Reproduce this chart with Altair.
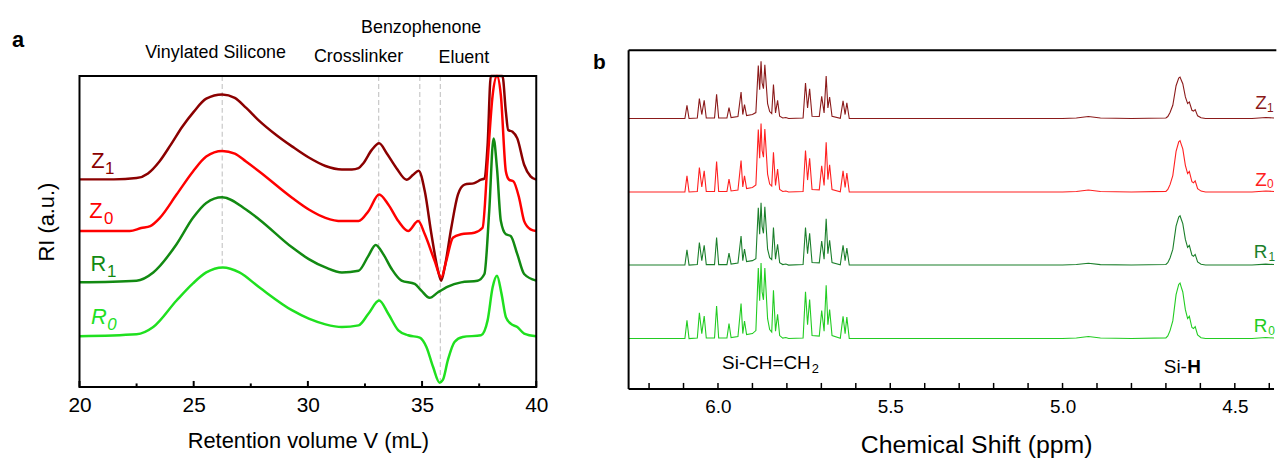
import altair as alt
import pandas as pd

# ================= panel a : GPC traces (x = retention volume, y = offset RI) =================
gpc_Z1_x = [20.0, 21.5, 22.5, 23.0, 23.5, 24.0, 24.5, 25.0, 25.55, 26.25, 26.8, 27.3, 27.87, 28.6, 29.32,
            30.04, 30.77, 31.49, 31.93, 32.22, 32.43, 32.8, 33.12, 33.45, 33.88, 34.32, 34.61, 34.85,
            35.12, 35.41, 35.70, 35.84, 35.99, 36.28, 36.57, 36.86, 37.29, 37.58, 37.73, 37.87, 38.01,
            38.25, 38.52, 38.67, 38.77, 38.96, 39.17, 39.47, 39.75, 40.0]
gpc_Z1_y = [209, 209, 210.3, 215, 227, 244, 262, 277, 290.3, 294.5, 291, 281, 268, 254, 242,
            231, 222.5, 219, 219, 220.3, 225.3, 238.7, 245.3, 235.3, 220.3, 208.7, 213.7, 217.7,
            197, 153.7, 117, 107, 120.3, 160.3, 193.7, 203.7, 205.3, 208.7, 210, 243.7, 313,
            345, 313, 277, 258.7, 257, 250.3, 223.7, 212, 208.7]

gpc_Z0_x = [20.0, 22.2, 22.7, 23.1, 23.52, 24.25, 24.97, 25.55, 26.25, 26.8, 27.29, 27.87, 29.32, 30.04,
            30.77, 31.49, 32.22, 32.65, 33.12, 33.52, 33.96, 34.39, 34.83, 35.12, 35.55, 35.84, 36.06,
            36.35, 36.71, 37.29, 37.65, 37.87, 38.09, 38.28, 38.45, 38.67, 38.81, 39.0, 39.25, 39.47,
            39.75, 40.0]
gpc_Z0_y = [157, 157, 160, 162, 170.3, 193.7, 217, 232, 237.7, 235, 227, 217, 190.3, 178.7,
            170.3, 167, 167, 177, 193.7, 183.7, 167, 157, 167, 153.7, 127, 110.3, 127,
            150.3, 153.7, 155.3, 160.3, 227, 293.7, 314, 293.7, 217, 208.7, 207, 190.3, 167,
            158.7, 157]

gpc_R1_x = [20.0, 22.5, 23.23, 24.25, 24.97, 25.55, 26.25, 27.29, 27.87, 29.32, 30.04, 30.77, 31.49,
            32.22, 32.65, 32.97, 33.30, 33.67, 34.10, 34.68, 34.97, 35.33, 35.70, 36.13, 36.71, 37.43,
            37.73, 37.94, 38.13, 38.28, 38.45, 38.67, 38.88, 39.17, 39.47, 40.0]
gpc_R1_y = [105.3, 107, 115.3, 143.7, 170.3, 185.3, 191, 178.7, 168.7, 140.3, 128.7, 120.3, 115.3,
            117, 132, 143, 133.7, 118.7, 107, 103.7, 97, 89.7, 95.3, 101, 105.3, 107,
            113.7, 177, 250.3, 220.3, 167, 153.7, 152, 133.7, 113.7, 107]

gpc_R0_x = [20.0, 22.5, 23.23, 24.25, 24.97, 25.55, 26.28, 27.0, 27.87, 29.32, 30.04, 30.77, 31.49,
            32.22, 32.65, 33.12, 33.52, 33.96, 34.39, 34.9, 35.19, 35.48, 35.77, 35.91, 36.13, 36.42,
            36.78, 37.58, 37.87, 38.09, 38.28, 38.48, 38.67, 38.88, 39.17, 39.47, 40.0]
gpc_R0_y = [51, 53, 60.3, 87, 104.3, 115.3, 120.3, 115.3, 100.3, 77, 68.7, 63, 60.3,
            62, 73.7, 87, 73.7, 57, 52, 49.7, 40.3, 20.3, 4.3, 7, 27, 45.3,
            50.3, 52, 67, 100.3, 112, 93.7, 70.3, 63.7, 60.3, 53.7, 51]

a_names = ["Z1", "Z0", "R1", "R0"]
a_colors = ["#8B0000", "#FF0000", "#128A12", "#1FE01F"]
a_xs = [gpc_Z1_x, gpc_Z0_x, gpc_R1_x, gpc_R0_x]
a_ys = [gpc_Z1_y, gpc_Z0_y, gpc_R1_y, gpc_R0_y]

guide_x = [26.25, 33.1, 34.9, 35.8]
guide_low = [120, 87, 100, 5]
a_major_ticks = [20, 25, 30, 35, 40]
a_minor_ticks = [22.5, 27.5, 32.5, 37.5]

# ================= panel b : 1H NMR traces (x = ppm, y = intensity) =================
nmr_ppm = [6.259, 6.096, 6.090, 6.084, 6.060, 6.054, 6.047, 6.040, 6.034, 6.010,
           6.004, 5.998, 5.974, 5.968, 5.962, 5.942, 5.933, 5.928, 5.923, 5.917,
           5.900, 5.890, 5.883, 5.879, 5.875, 5.872, 5.868, 5.864, 5.856, 5.850,
           5.844, 5.839, 5.833, 5.827, 5.821, 5.812, 5.803, 5.795, 5.753, 5.746,
           5.740, 5.734, 5.727, 5.706, 5.699, 5.692, 5.686, 5.681, 5.676, 5.669,
           5.645, 5.637, 5.631, 5.626, 5.619, 5.000, 4.960, 4.925, 4.890, 4.800,
           4.700, 4.6945, 4.688, 4.680, 4.6705, 4.6628, 4.659, 4.655, 4.651, 4.6435,
           4.637, 4.632, 4.6245, 4.620, 4.615, 4.608, 4.598, 4.585, 4.450, 4.410,
           4.3862]
nmr_Z1 = [0, 0, 13.3, 0, 0.5, 20, 4, 18.3, 0.5, 0.5,
          24.3, 0.5, 0.5, 11, 1, 2, 26.7, 4, 14, 3,
          4, 6, 53.3, 29, 57.7, 36, 30, 54, 15, 7,
          5, 34.3, 5.7, 18.3, 2.3, 0.5, 1, 0, 0.5, 35.7,
          10.7, 30, 2.3, 2, 22.3, 5.7, 42.7, 10.7, 21.7, 2.3,
          0.3, 17.7, 4, 15.7, 0, 0, 0.5, 2, 0.5, 0,
          0.5, 2, 6, 13.3, 33, 40.7, 41.7, 38.3, 35, 21.7,
          15, 16.7, 8.3, 7.5, 9, 2.7, 0.7, 0, 0, 1,
          0.5]
nmr_Z0 = [0, 0, 16.3, 0, 0.5, 24.7, 5, 21.3, 0.5, 0.5,
          30.7, 0.5, 0.5, 13, 1, 2, 31.7, 5, 16.3, 3.5,
          4.5, 7, 63, 34, 69, 42, 35, 63.3, 18, 8,
          6, 40, 6.5, 23, 2.5, 0.5, 1, 0, 0.5, 41.7,
          12, 34, 2.5, 2.2, 26.3, 6.5, 50, 12.5, 27.3, 2.5,
          0.3, 21.3, 4.5, 19, 0, 0, 0.5, 2, 0.5, 0,
          0.6, 2.5, 7.4, 16.5, 40.9, 50.5, 51.7, 47.5, 43.4, 26.9,
          18.6, 20.7, 10.3, 9.3, 11.2, 3.3, 0.9, 0, 0, 1,
          0.5]
nmr_R1 = [0, 0, 15.3, 0, 0.5, 22.7, 4.5, 20, 0.5, 0.5,
          27.7, 0.5, 0.5, 12, 1, 2, 29.3, 4.5, 16, 3.5,
          4.5, 6.5, 57.7, 31, 62.7, 39, 32, 58.7, 16, 7.5,
          5.5, 37.7, 6, 21, 2.5, 0.5, 1, 0, 0.5, 37.7,
          11.5, 32, 2.5, 2.2, 24.3, 6, 46.7, 11.5, 25, 2.5,
          0.3, 20, 4.5, 17, 0, 0, 0.5, 1.8, 0.5, 0,
          0.6, 2.4, 7.1, 15.8, 39.3, 48.4, 49.6, 45.6, 41.7, 25.8,
          17.9, 19.9, 9.9, 8.9, 10.7, 3.2, 0.8, 0, 0, 1,
          0.5]
nmr_R0 = [0, 0, 18.3, 0, 0.5, 26, 5, 22.7, 0.5, 0.5,
          32.7, 0.5, 0.5, 15, 1, 2, 35.3, 5, 17.7, 4,
          5, 8, 71, 38, 76, 47, 39, 71, 20, 9,
          6.5, 48.7, 7.5, 24.3, 3, 0.5, 1, 0, 0.5, 47,
          14, 39.3, 3, 2.5, 28.3, 7.5, 53.7, 14, 29.3, 3,
          0.3, 22.3, 5, 21.7, 0, 0, 0.5, 2, 0.5, 0,
          0.7, 2.7, 8, 17.8, 44.2, 54.5, 55.9, 51.3, 46.9, 29.1,
          20.1, 22.4, 11.1, 10.1, 12.1, 3.6, 0.9, 0, 0, 1,
          0.5]
b_names = ["Z1", "Z0", "R1", "R0"]
b_offsets = [272.3, 198.3, 124.7, 50.7]
b_colors = ["#8B1A1A", "#FF2020", "#1B7F2B", "#22CC22"]
b_ticks = [6.2, 6.1, 6.0, 5.9, 5.8, 5.7, 5.6, 5.5, 5.4, 5.3, 5.2, 5.1, 5.0, 4.9, 4.8, 4.7, 4.6, 4.5, 4.4]
b_labels = [6.0, 5.5, 5.0, 4.5]

FONT = "Liberation Sans"

# ---------------- data frames ----------------
frames = []
for n, xs, ys, c in zip(a_names, a_xs, a_ys, a_colors):
    assert len(xs) == len(ys), n
    frames.append(pd.DataFrame({"x": xs, "y": ys, "series": n, "col": c}))
gpc = pd.concat(frames, ignore_index=True)

frames = []
for n, vals, off, c in zip(b_names, [nmr_Z1, nmr_Z0, nmr_R1, nmr_R0], b_offsets, b_colors):
    assert len(vals) == len(nmr_ppm), n
    frames.append(pd.DataFrame({"ppm": nmr_ppm, "I": vals, "off": off, "series": n, "col": c}))
nmr = pd.concat(frames, ignore_index=True)

# ---------------- panel a ----------------
X_A = alt.X("x:Q", scale=alt.Scale(domain=[20, 40], nice=False, zero=False),
            axis=alt.Axis(values=a_major_ticks, labelFontSize=21, labelPadding=25,
                          labelBaseline="alphabetic", labelFlush=False, ticks=False, tickSize=0,
                          domain=False, grid=False, labelFont=FONT, labelColor="black",
                          title="Retention volume V (mL)", titleFont=FONT, titleFontSize=22,
                          titleFontWeight="normal", titleColor="black", titleY=61,
                          titleBaseline="alphabetic"))
Y_A = alt.Y("y:Q", scale=alt.Scale(domain=[0, 339], nice=False, zero=False), axis=None)
X2_A = alt.X2("x2:Q")
Y2_A = alt.Y2("y2:Q")

anchor_a = alt.Chart(pd.DataFrame({"x": [16.913], "x2": [16.95], "y": [379.0], "y2": [378.95]})).mark_rect(
    opacity=0).encode(x=X_A, x2=X2_A, y=Y_A, y2=Y2_A)

guides = alt.Chart(pd.DataFrame({"x": guide_x, "y": [313] * 4, "y2": guide_low})).mark_rule(
    color="#C8C8C8", strokeDash=[5, 3], strokeWidth=1.2).encode(x=X_A, y=Y_A, y2=Y2_A)

lines_a = alt.Chart(gpc).transform_calculate(yc="min(datum.y, 313)").mark_line(
    interpolate="monotone", strokeWidth=2.5).encode(
    x=X_A, y=alt.Y("yc:Q", scale=alt.Scale(domain=[0, 339], nice=False, zero=False), axis=None),
    color=alt.Color("col:N", scale=None), detail="series:N")

frame_a = alt.Chart(pd.DataFrame({"x": [20], "x2": [40], "y": [0], "y2": [313]})).mark_rect(
    fillOpacity=0, stroke="black", strokeWidth=2).encode(x=X_A, x2=X2_A, y=Y_A, y2=Y2_A)

ticks_a = alt.Chart(pd.DataFrame({"x": a_major_ticks + a_minor_ticks,
                                  "y": [0] * 9,
                                  "y2": [6] * 5 + [3.5] * 4})).mark_rule(
    color="black", strokeWidth=2).encode(x=X_A, y=Y_A, y2=Y2_A)

def text_layer(rows, X, Y, xfield, **props):
    df = pd.DataFrame(rows, columns=[xfield, "y", "t", "c"])
    return alt.Chart(df).mark_text(font=FONT, **props).encode(
        x=X, y=Y, text="t:N", color=alt.Color("c:N", scale=None))

ann_a = text_layer([[25.96, 331, "Vinylated Silicone", "black"],
                    [32.22, 327, "Crosslinker", "black"],
                    [34.96, 356.3, "Benzophenone", "black"],
                    [36.83, 326, "Eluent", "black"]], X_A, Y_A, "x",
                   align="center", baseline="alphabetic", fontSize=18)
panel_a_letter = text_layer([[17.04, 342, "a", "black"]], X_A, Y_A, "x",
                            align="left", baseline="alphabetic", fontSize=22, fontWeight="bold")
ylab_a = text_layer([[18.87, 166, "RI (a.u.)", "black"]], X_A, Y_A, "x",
                    align="center", baseline="alphabetic", fontSize=22, angle=270)
lab_main_a = text_layer([[20.52, 220.3, "Z", a_colors[0]],
                         [20.43, 170.3, "Z", a_colors[1]],
                         [20.48, 117, "R", a_colors[2]]], X_A, Y_A, "x",
                        align="left", baseline="alphabetic", fontSize=22)
lab_sub_a = text_layer([[21.12, 214.3, "1", a_colors[0]],
                        [21.07, 164.3, "0", a_colors[1]],
                        [21.20, 111, "1", a_colors[2]]], X_A, Y_A, "x",
                       align="left", baseline="alphabetic", fontSize=17)
lab_main_a_it = text_layer([[20.50, 63, "R", a_colors[3]]], X_A, Y_A, "x",
                           align="left", baseline="alphabetic", fontSize=22, fontStyle="italic")
lab_sub_a_it = text_layer([[21.22, 57, "0", a_colors[3]]], X_A, Y_A, "x",
                          align="left", baseline="alphabetic", fontSize=17, fontStyle="italic")

panel_a = alt.layer(anchor_a, guides, lines_a, frame_a, ticks_a, ann_a, panel_a_letter, ylab_a,
                    lab_main_a, lab_sub_a, lab_main_a_it, lab_sub_a_it).properties(width=460, height=339)

# ---------------- panel b ----------------
X_B = alt.X("ppm:Q", scale=alt.Scale(domain=[4.3862, 6.2594], reverse=True, nice=False, zero=False),
            axis=alt.Axis(values=b_labels, format=".1f", labelFontSize=19, labelPadding=24,
                          labelBaseline="alphabetic", labelFlush=False, ticks=False, tickSize=0,
                          domain=False, grid=False, labelFont=FONT, labelColor="black",
                          title="Chemical Shift (ppm)", titleFont=FONT, titleFontSize=25,
                          titleFontWeight="normal", titleColor="black", titleY=64, titleX=350,
                          titleAlign="center", titleBaseline="alphabetic"))
Y_B = alt.Y("y:Q", scale=alt.Scale(domain=[0, 341], nice=False, zero=False), axis=None)
X2_B = alt.X2("ppm2:Q")

lines_b = alt.Chart(nmr).transform_calculate(y="datum.I + datum.off").mark_line(
    strokeWidth=1.1, interpolate="linear").encode(
    x=X_B, y=Y_B, color=alt.Color("col:N", scale=None), detail="series:N")

frame_b_v = alt.Chart(pd.DataFrame({"ppm": [6.2594], "y": [0], "y2": [341]})).mark_rule(
    color="black", strokeWidth=2).encode(x=X_B, y=Y_B, y2=alt.Y2("y2:Q"))
frame_b_h = alt.Chart(pd.DataFrame({"ppm": [6.2594, 6.2594], "ppm2": [4.3862, 4.3795], "y": [0, 341]})).mark_rule(
    color="black", strokeWidth=2).encode(x=X_B, x2=X2_B, y=Y_B)
ticks_b = alt.Chart(pd.DataFrame({"ppm": b_ticks, "y": [0] * len(b_ticks), "y2": [6] * len(b_ticks)})).mark_rule(
    color="black", strokeWidth=1.5).encode(x=X_B, y=Y_B, y2=alt.Y2("y2:Q"))

panel_b_letter = text_layer([[6.363, 322.3, "b", "black"]], X_B, Y_B, "ppm",
                            align="left", baseline="alphabetic", fontSize=21, fontWeight="bold")
ann_b = text_layer([[5.988, 20, "Si-CH=CH", "black"],
                    [4.706, 16, "Si-", "black"]], X_B, Y_B, "ppm",
                   align="left", baseline="alphabetic", fontSize=19)
ann_b_sub = text_layer([[5.7277, 16, "2", "black"]], X_B, Y_B, "ppm",
                       align="left", baseline="alphabetic", fontSize=13)
ann_b_bold = text_layer([[4.638, 16, "H", "black"]], X_B, Y_B, "ppm",
                        align="left", baseline="alphabetic", fontSize=19, fontWeight="bold")
lab_main_b = text_layer([[4.4409, 282.3, "Z", b_colors[0]],
                         [4.4409, 204, "Z", b_colors[1]],
                         [4.4452, 132.3, "R", b_colors[2]],
                         [4.4452, 57.3, "R", b_colors[3]]], X_B, Y_B, "ppm",
                        align="left", baseline="alphabetic", fontSize=19)
lab_sub_b = text_layer([[4.4063, 279, "1", b_colors[0]],
                        [4.4063, 202.3, "0", b_colors[1]],
                        [4.4020, 129, "1", b_colors[2]],
                        [4.4030, 54, "0", b_colors[3]]], X_B, Y_B, "ppm",
                       align="left", baseline="alphabetic", fontSize=12)

panel_b = alt.layer(lines_b, frame_b_v, frame_b_h, ticks_b, panel_b_letter, ann_b, ann_b_sub,
                    ann_b_bold, lab_main_b, lab_sub_b).properties(width=650, height=341)

chart = alt.HConcatChart(
    hconcat=[panel_a, panel_b], spacing=93, bounds="flush",
    config=alt.Config(font=FONT, view=alt.ViewConfig(stroke="transparent", strokeWidth=0)),
).properties(padding=0)

chart.save("out.html", embed_options={"renderer": "svg", "actions": False})
